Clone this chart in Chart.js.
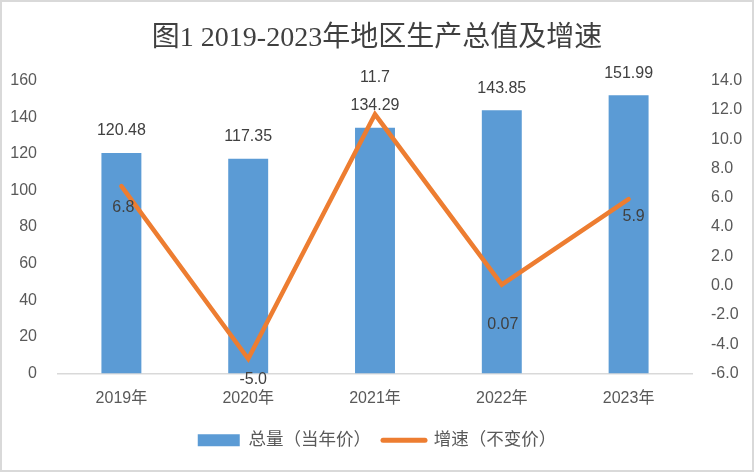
<!DOCTYPE html>
<html>
<head>
<meta charset="utf-8">
<script src="https://cdn.jsdelivr.net/npm/chart.js@4.4.0/dist/chart.umd.min.js"></script>
<style>
  html, body { margin: 0; padding: 0; background: #fff; }
  #wrap { position: relative; width: 754px; height: 472px; }
  #frame { position: absolute; left: 0; top: 0; width: 754px; height: 472px; box-sizing: border-box; border: 2px solid #d9d9d9; pointer-events: none; }
</style>
</head>
<body>
<div id="wrap">
  <canvas id="gdpChart" width="754" height="472"></canvas>
  <div id="frame"></div>
</div>
<script>
const years = ['2019年', '2020年', '2021年', '2022年', '2023年'];
const totals = [120.48, 117.35, 134.29, 143.85, 151.99];
const growth = [6.8, -5.0, 11.7, 0.07, 5.9];
const leftTicks = { min: 0, max: 160, step: 20 };
const rightTicks = { min: -6, max: 14, step: 2 };

// hand placed label offsets for the line (like in the original)
const growthLabelOffsets = [[2, 22], [5, 21], [0, -37], [1, 40], [5, 17]];

const sansFont = "'Liberation Sans', 'Noto Sans CJK SC', sans-serif";
const textColor = '#595959';
const labelColor = '#404040';

function fmtGrowth(v) {
    return Number(v.toFixed(1)) === v ? v.toFixed(1) : String(v);
}

const valueLabels = {
    id: 'valueLabels',
    afterDatasetsDraw(chart) {
        const ctx = chart.ctx;
        ctx.save();
        ctx.font = '16px ' + sansFont;
        ctx.fillStyle = labelColor;
        ctx.textAlign = 'center';
        ctx.textBaseline = 'middle';
        chart.getDatasetMeta(0).data.forEach((bar, i) => {
            ctx.fillText(totals[i].toFixed(2), bar.x, bar.y - 22);
        });
        chart.getDatasetMeta(1).data.forEach((pt, i) => {
            const off = growthLabelOffsets[i];
            ctx.fillText(fmtGrowth(growth[i]), pt.x + off[0], pt.y + off[1]);
        });
        ctx.restore();
    }
};

const ctx = document.getElementById('gdpChart').getContext('2d');

new Chart(ctx, {
    type: 'bar',
    data: {
        labels: years,
        datasets: [
            {
                type: 'bar',
                label: '总量（当年价）',
                data: totals,
                backgroundColor: '#5b9bd5',
                borderWidth: 0,
                barPercentage: 0.315,
                categoryPercentage: 1,
                yAxisID: 'y',
                order: 2
            },
            {
                type: 'line',
                label: '增速（不变价）',
                data: growth,
                borderColor: '#ed7d31',
                backgroundColor: '#ed7d31',
                borderWidth: 4.5,
                borderCapStyle: 'round',
                borderJoinStyle: 'miter',
                pointRadius: 0,
                tension: 0,
                fill: false,
                yAxisID: 'y1',
                order: 1
            }
        ]
    },
    options: {
        responsive: false,
        animation: false,
        devicePixelRatio: 1,
        layout: { padding: { left: 0, right: 0, top: 0, bottom: 13 } },
        plugins: {
            title: {
                display: true,
                text: '图1 2019-2023年地区生产总值及增速',
                color: '#404040',
                font: { family: "'Liberation Serif', 'Noto Sans CJK SC', serif", size: 28, weight: 'normal' },
                padding: { top: 22, bottom: 25 }
            },
            legend: {
                position: 'bottom',
                labels: {
                    usePointStyle: true,
                    pointStyleWidth: 42,
                    boxHeight: 12,
                    padding: 12,
                    color: textColor,
                    font: { family: sansFont, size: 17.5 },
                    sort: (a, b) => a.datasetIndex - b.datasetIndex,
                    generateLabels(chart) {
                        const items = Chart.defaults.plugins.legend.labels.generateLabels(chart);
                        items.forEach(it => {
                            if (it.datasetIndex === 0) {
                                it.pointStyle = 'rect';
                                it.lineWidth = 0;
                            } else {
                                it.pointStyle = 'line';
                                it.lineWidth = 5;
                                it.lineCap = 'round';
                            }
                        });
                        return items;
                    }
                }
            },
            tooltip: { enabled: false }
        },
        scales: {
            x: {
                grid: { display: false },
                border: { display: true, color: '#d9d9d9', width: 1.5 },
                ticks: { color: textColor, font: { family: sansFont, size: 16 }, padding: 7 },
                afterFit(scale) { scale.height = 46; }
            },
            y: {
                position: 'left',
                min: leftTicks.min,
                max: leftTicks.max,
                grid: { display: false },
                border: { display: false },
                ticks: { stepSize: leftTicks.step, color: textColor, font: { family: sansFont, size: 16 }, padding: 13 },
                afterFit(scale) { scale.width = 58; }
            },
            y1: {
                position: 'right',
                min: rightTicks.min,
                max: rightTicks.max,
                grid: { display: false },
                border: { display: false },
                ticks: {
                    stepSize: rightTicks.step,
                    color: textColor,
                    font: { family: sansFont, size: 16 },
                    padding: 11,
                    callback: v => Number(v).toFixed(1)
                },
                afterFit(scale) { scale.width = 62; }
            }
        }
    },
    plugins: [valueLabels]
});
</script>
</body>
</html>
